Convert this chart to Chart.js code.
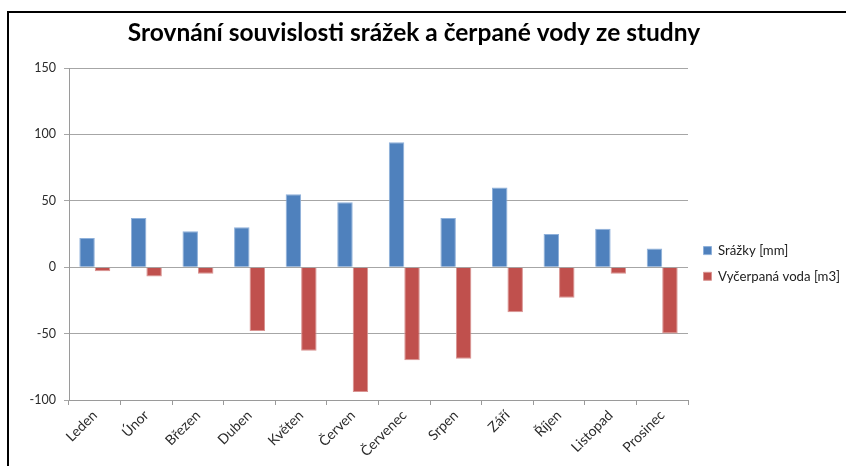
<!DOCTYPE html>
<html>
<head>
<meta charset="utf-8">
<script src="https://cdn.jsdelivr.net/npm/chart.js@4/dist/chart.umd.min.js"></script>
<style>
  html, body { margin: 0; padding: 0; background: #fff; overflow: hidden; }
  #wrap { position: relative; width: 846px; height: 466px; }
  #frame { position: absolute; left: 7px; top: 11px; width: 900px; height: 600px;
           border-left: 2px solid #000; border-top: 2px solid #000; pointer-events: none; }
  canvas { position: absolute; left: 0; top: 0; }
</style>
</head>
<body>
<div id="wrap">
  <canvas id="c" width="846" height="466"></canvas>
  <div id="frame"></div>
</div>
<script>
const titleText = 'Srovnání souvislosti srážek a čerpané vody ze studny';
const months = ['Leden', 'Únor', 'Březen', 'Duben', 'Květen', 'Červen', 'Červenec', 'Srpen', 'Září', 'Říjen', 'Listopad', 'Prosinec'];
const srazky = [22, 37, 27, 30, 55, 49, 94, 37, 60, 25, 29, 14];
const voda = [-3, -7, -5, -48, -63, -94, -70, -69, -34, -23, -5, -50];
const seriesNames = ['Srážky [mm]', 'Vyčerpaná voda [m3]'];
const yMin = -100, yMax = 150, yStep = 50;

Chart.defaults.font.family = 'Lato, "Open Sans", sans-serif';

const legendPos = {
  id: 'legendPos',
  afterInit(chart) {
    const l = chart.legend;
    if (!l) return;
    const origFit = l.fit.bind(l);
    l.fit = function () { origFit(); this.width = 140; };
  },
  afterUpdate(chart) {
    const l = chart.legend;
    if (!l) return;
    const pad = l.options.labels.padding;
    const colH = l.columnSizes && l.columnSizes[0] ? l.columnSizes[0].height : 0;
    const cursorY = ((l.top + pad) + (l.bottom - colH)) / 2;
    const dy = 244 - cursorY;
    l.top += dy; l.bottom += dy;
    l.left = 691; l.right = chart.width; l.width = l.right - l.left;
    l.adjustHitBoxes();
  }
};

new Chart(document.getElementById('c'), {
  type: 'bar',
  data: {
    labels: months,
    datasets: [
      { label: seriesNames[0], data: srazky, backgroundColor: '#4F81BD', borderColor: '#8eb0da', borderWidth: 1,
        categoryPercentage: 0.6, barPercentage: 1.0 },
      { label: seriesNames[1], data: voda, backgroundColor: '#C0504D', borderColor: '#d99492', borderWidth: 1,
        categoryPercentage: 0.6, barPercentage: 1.0 }
    ]
  },
  options: {
    responsive: false,
    animation: false,
    layout: { padding: { left: 0, right: 18, top: 0, bottom: 0 } },
    plugins: {
      title: {
        display: true, text: titleText, color: '#000',
        font: { family: 'Lato', size: 24.5, weight: 'bold', lineHeight: 1.2 },
        padding: { top: 18.3, bottom: 20.3 }
      },
      legend: {
        position: 'right',
        labels: { boxWidth: 8, boxHeight: 8, padding: 12.5, color: '#222', font: { size: 13.2 } }
      },
      tooltip: { enabled: false }
    },
    scales: {
      x: {
        grid: { display: true, drawOnChartArea: false, drawTicks: true, tickLength: 5, color: '#9a9a9a', offset: true },
        border: { display: true, color: '#9a9a9a' },
        ticks: { minRotation: 45, maxRotation: 45, color: '#2a2a2a', font: { size: 14 }, padding: 2 },
        afterFit(s) { s.height = 66; }
      },
      y: {
        min: yMin, max: yMax,
        grid: { color: '#a6a6a6', tickLength: 5 },
        border: { display: true, color: '#9a9a9a' },
        ticks: { stepSize: yStep, color: '#2a2a2a', font: { size: 12.5 }, padding: 8 },
        afterFit(s) { s.width = 69; }
      }
    }
  },
  plugins: [legendPos]
});
</script>
</body>
</html>
